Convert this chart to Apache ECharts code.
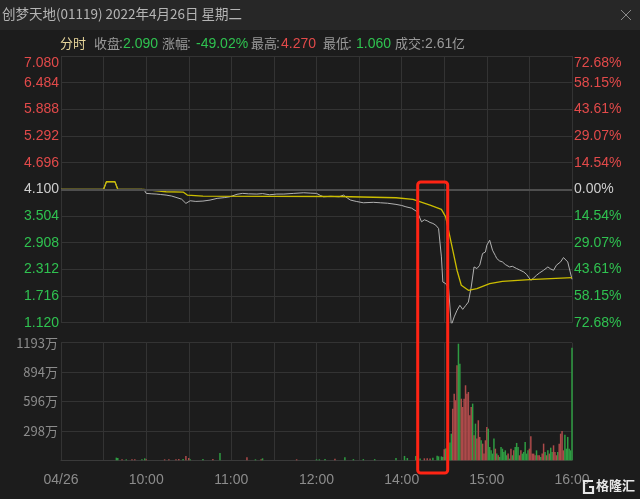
<!DOCTYPE html>
<html><head><meta charset="utf-8">
<script src="https://cdn.jsdelivr.net/npm/echarts@6/dist/echarts.min.js"></script>
<style>html,body{margin:0;padding:0;background:#1c1c1c;}#c{width:640px;height:499px;}</style>
</head><body><div id="c"></div>
<script>
// ---------- data ----------
const prevClose = 4.100;
const priceTicks = ['1.120','1.716','2.312','2.908','3.504','4.100','4.696','5.292','5.888','6.484','7.080'];
const pctTicks = ['72.68%','58.15%','43.61%','29.07%','14.54%','0.00%','14.54%','29.07%','43.61%','58.15%','72.68%'];
const volTicks = ['', '298万', '596万', '894万', '1193万'];
const timeTickTimes = ['09:00','10:00','11:00','12:00','14:00','15:00','16:00'];
const timeTickLabels = ['04/26','10:00','11:00','12:00','14:00','15:00','16:00'];

const priceData = [
 ['09:00',4.100],['09:30',4.100],['09:32',4.270],['09:38',4.270],['09:40',4.100],['09:57',4.100],
 ['09:59',4.069],['10:00',4.010],['10:04',4.000],['10:07',3.995],['10:10',3.985],['10:14',3.972],
 ['10:18',3.950],['10:21',3.921],['10:25',3.880],['10:28',3.786],['10:31',3.845],['10:35',3.830],
 ['10:40',3.838],['10:45',3.860],['10:50',3.898],['10:55',3.915],['10:59',3.934],['11:04',3.990],
 ['11:08',4.010],['11:12',4.000],['11:18',3.995],['11:22',4.005],['11:27',3.979],['11:32',3.995],
 ['11:37',3.995],['11:44',4.010],['11:51',4.024],['11:56',4.015],['12:00',4.010],['13:03',3.960],
 ['13:05',3.934],['13:10',3.945],['13:16',3.934],['13:19',3.972],['13:22',3.900],['13:24',3.860],
 ['13:28',3.830],['13:33',3.800],['13:40',3.810],['13:45',3.800],['13:50',3.790],['13:56',3.764],
 ['14:00',3.740],['14:03',3.710],['14:07',3.680],['14:11',3.598],['14:14',3.374],['14:16',3.420],
 ['14:18',3.396],['14:20',3.360],['14:22',3.338],['14:24',3.300],['14:26',3.226],['14:28',2.590],
 ['14:29',2.030],['14:31',1.994],['14:33',1.900],['14:35',1.060],['14:37',1.250],['14:39',1.396],
 ['14:41',1.508],['14:43',1.418],['14:45',1.500],['14:47',1.582],['14:49',1.918],['14:51',2.366],
 ['14:53',2.330],['14:55',2.404],['14:57',2.666],['14:59',2.700],['15:00',2.852],['15:02',2.964],
 ['15:04',2.740],['15:06',2.620],['15:07',2.554],['15:09',2.500],['15:11',2.478],['15:13',2.420],
 ['15:16',2.366],['15:18',2.380],['15:21',2.330],['15:23',2.300],['15:26',2.254],['15:28',2.200],
 ['15:31',2.068],['15:33',2.120],['15:35',2.180],['15:37',2.230],['15:40',2.292],['15:43',2.366],
 ['15:45',2.320],['15:47',2.292],['15:49',2.404],['15:52',2.480],['15:54',2.576],['15:57',2.478],
 ['16:00',2.090]
];
const avgData = [
 ['09:00',4.100],['09:30',4.100],['09:32',4.270],['09:38',4.270],['09:40',4.100],['09:58',4.100],
 ['09:59',4.069],['10:14',4.046],['10:26',4.040],['10:29',3.972],['10:40',3.950],['13:16',3.940],
 ['13:56',3.912],['14:08',3.876],['14:20',3.748],['14:28',3.652],['14:31',3.486],['14:34',3.038],
 ['14:36',2.740],['14:39',2.292],['14:42',1.956],['14:47',1.844],['14:53',1.882],['15:02',1.994],
 ['15:11',2.045],['15:30',2.083],['16:00',2.128]
];
// sparse early volumes (万): [time, volume, direction]
const volSparse = [
 ['09:39',27,'g'],['09:40',24,'g'],['09:43',10,'r'],['09:46',10,'g'],['09:50',10,'r'],['09:52',10,'r'],
 ['09:57',10,'g'],['09:59',20,'g'],['10:00',10,'r'],['10:13',10,'r'],['10:16',10,'r'],['10:21',10,'r'],
 ['10:23',14,'r'],['10:26',14,'g'],['10:28',44,'r'],['10:30',24,'r'],['10:31',10,'g'],['10:40',14,'g'],
 ['10:47',14,'r'],['10:52',74,'g'],['11:11',30,'r'],['11:17',10,'g'],['11:21',10,'r'],['11:22',20,'g'],
 ['11:46',10,'r'],['12:00',10,'g'],['13:02',10,'g'],['13:06',14,'g'],['13:13',16,'r'],['13:20',30,'g'],
 ['13:26',12,'g'],['13:33',12,'g'],['13:41',12,'g'],['13:56',23,'g'],['14:02',44,'g'],['14:04',23,'g'],
 ['14:10',44,'g'],['14:13',17,'g'],['14:16',20,'r'],['14:18',20,'r'],['14:20',17,'r'],['14:22',27,'g'],
 ['14:25',47,'g'],['14:26',40,'g'],['14:28',40,'g'],['14:29',33,'g'],['14:30',112,'r'],['14:31',120,'g'],
 ['14:32',120,'g'],['14:33',150,'g'],['14:34',180,'g']
];
// consecutive minute volumes from 14:35 to 16:00 (万)
const volDenseStart = '14:35';
const volDenseValues = [
 270,524,676,609,964,1183,980,625,541,625,761,676,693,456,541,575,254,372,220,406,
 237,203,169,68,203,338,321,135,101,68,220,118,68,51,34,135,118,85,
 101,51,68,17,118,51,101,135,176,135,51,101,68,85,186,68,101,118,243,68,
 68,51,101,51,51,34,68,169,85,51,101,68,128,85,152,85,51,85,169,270,
 298,101,260,118,237,118,101,1143
];
const volDenseDirs = ('grrrrggrrrrrrrrgrgrrrgrrrrgggggrgrgggg' +
 'ggrgrgrgggrrgggggrrrrrgrrgrrgrgrggrrrgrrrrggggggg').split('');

// ---------- helpers ----------
function toIdx(t){
  const [h,m] = t.split(':').map(Number);
  const mins = h*60+m;
  return mins <= 720 ? mins - 540 : mins - 780 + 180;
}
function idxToTime(i){
  const mins = i <= 180 ? i + 540 : i - 180 + 780;
  const h = Math.floor(mins/60), m = mins%60;
  return String(h).padStart(2,'0')+':'+String(m).padStart(2,'0');
}
const RED = '#e24a4a', GREEN = '#2fc250', NEUTRAL = '#cfcfcf';
const BAR_R = '#ad4a4a', BAR_G = '#2e9c42';

const volBars = [];
volSparse.forEach(d => volBars.push({value:[toIdx(d[0]), d[1]], itemStyle:{color: d[2]==='g'?BAR_G:BAR_R}}));
const denseStartIdx = toIdx(volDenseStart);
volDenseValues.forEach((v,i) => {
  const t = idxToTime(denseStartIdx + i);
  volBars.push({value:[toIdx(t), v], itemStyle:{color: volDenseDirs[i]==='g'?BAR_G:BAR_R}});
});

const tickIdx = timeTickTimes.map(toIdx);
const gridColor = '#333333';
const splitColors = priceTicks.map((_,i)=> i===5 ? '#555555' : gridColor);
const FONT = 'Arial, "Noto Sans CJK SC", sans-serif';
const CJK = '"Noto Sans CJK SC", Arial, sans-serif';

const chart = echarts.init(document.getElementById('c'), null, {renderer:'canvas'});
const G0 = {left:61, right:68, top:56, height:266.7};
const G1 = {left:61, right:68, top:342.7, height:117.6};

function headerTexts(){
  const GRAY = '#9a9a9a';
  const items = [
    ['分时',60,'#e6d59a','c'],['收盘',94,GRAY,'c'],[':',119,GRAY,'a'],['2.090',123,GREEN,'a'],
    ['涨幅',162,GRAY,'c'],[':',187,GRAY,'a'],['-49.02%',196,GREEN,'a'],
    ['最高',251,GRAY,'c'],[':',276,GRAY,'a'],['4.270',281,RED,'a'],
    ['最低',323,GRAY,'c'],[':',348,GRAY,'a'],['1.060',356,GREEN,'a'],
    ['成交',395,GRAY,'c'],[':',421,GRAY,'a'],['2.61',425,GRAY,'a'],['亿',452,GRAY,'c']
  ];
  return items.map(it => ({type:'text', left:it[1], top: it[3]==='c' ? 37 : 37.5, z:10,
    style:{text:it[0], fill:it[2], font: it[3]==='c' ? '13px '+CJK : '14px '+FONT}}));
}

chart.setOption({
  animation:false,
  backgroundColor:'#1c1c1c',
  grid:[G0, G1],
  xAxis:[
    {type:'value', gridIndex:0, min:0, max:360, interval:30,
     axisLine:{show:false}, axisTick:{show:false}, axisLabel:{show:false},
     splitLine:{show:true, lineStyle:{color:gridColor, width:1}}},
    {type:'value', gridIndex:1, min:0, max:360, interval:30,
     axisLine:{show:true, lineStyle:{color:'#3a3a3a'}}, axisTick:{show:false},
     axisLabel:{show:true, color:'#8c8c8c', fontSize:14, fontFamily:FONT, margin:13,
       showMinLabel:true, showMaxLabel:true, hideOverlap:false,
       formatter:(v)=>{ const k = tickIdx.indexOf(Math.round(v)); return k>=0 ? timeTickLabels[k] : ''; }},
     splitLine:{show:true, lineStyle:{color:gridColor, width:1}}}
  ],
  yAxis:[
    {type:'value', gridIndex:0, min:1.12, max:7.08, show:false, splitLine:{show:false}},
    {type:'value', gridIndex:0, min:0, max:10, interval:1, position:'left',
     axisLine:{show:false}, axisTick:{show:false},
     axisLabel:{margin:2, fontSize:14, fontFamily:FONT,
       color:(v)=>{ const i=Math.round(Number(v)); return i>5?RED:(i<5?GREEN:NEUTRAL); },
       formatter:(v)=>{ const i=Math.round(v); return i===10 ? '{t|'+priceTicks[i]+'}' : priceTicks[i]; },
       rich:{t:{padding:[14,0,0,0], color:RED, fontSize:14, fontFamily:FONT}}},
     splitLine:{show:true, lineStyle:{color:splitColors, width:1}}},
    {type:'value', gridIndex:0, min:0, max:10, interval:1, position:'right',
     axisLine:{show:false}, axisTick:{show:false},
     axisLabel:{margin:2, fontSize:14, fontFamily:FONT,
       color:(v)=>{ const i=Math.round(Number(v)); return i>5?RED:(i<5?GREEN:NEUTRAL); },
       formatter:(v)=>{ const i=Math.round(v); return i===10 ? '{t|'+pctTicks[i]+'}' : pctTicks[i]; },
       rich:{t:{padding:[14,0,0,0], color:RED, fontSize:14, fontFamily:FONT}}},
     splitLine:{show:false}},
    {type:'value', gridIndex:1, min:0, max:1193, show:false, splitLine:{show:false}},
    {type:'value', gridIndex:1, min:0, max:4, interval:1, position:'left',
     axisLine:{show:false}, axisTick:{show:false},
     axisLabel:{margin:3, fontSize:13, fontFamily:CJK, color:'#8c8c8c',
       formatter:(v)=>volTicks[Math.round(v)]},
     splitLine:{show:true, lineStyle:{color:gridColor, width:1}}}
  ],
  series:[
    {type:'line', xAxisIndex:0, yAxisIndex:0, data:[], silent:true, z:1,
     markLine:{silent:true, symbol:'none', label:{show:false},
       lineStyle:{color:'#4e4e4e', width:2, type:'solid'}, data:[{yAxis:prevClose}]}},
    {type:'line', name:'价格', xAxisIndex:0, yAxisIndex:0, showSymbol:false, z:3,
     lineStyle:{color:'#b2b2b2', width:1}, data:priceData.map(d=>[toIdx(d[0]), d[1]])},
    {type:'line', name:'均价', xAxisIndex:0, yAxisIndex:0, showSymbol:false, z:4,
     lineStyle:{color:'#cbbd00', width:1.3}, data:avgData.map(d=>[toIdx(d[0]), d[1]])},
    {type:'bar', name:'成交量', xAxisIndex:1, yAxisIndex:3, barWidth:1.5, z:3, data:volBars}
  ],
  graphic:[
    {type:'rect', left:0, top:0, z:0, shape:{width:640, height:30}, style:{fill:'#272727'}},
    {type:'text', left:2, top:7, z:10, style:{text:'创梦天地(01119) 2022年4月26日 星期二', fill:'#b5b5b5', font:'13.5px '+CJK}},
    {type:'line', z:10, shape:{x1:621, y1:10, x2:631, y2:20}, style:{stroke:'#8a8a8a', lineWidth:1}},
    {type:'line', z:10, shape:{x1:631, y1:10, x2:621, y2:20}, style:{stroke:'#8a8a8a', lineWidth:1}},
    ...headerTexts(),
    {type:'rect', z:20, shape:{x:417.7, y:182, width:30, height:291, r:3},
     style:{fill:'rgba(0,0,0,0)', stroke:'#ff2414', lineWidth:3}},
    {type:'polyline', z:20, shape:{points:[[593,481],[584,481],[584,493],[593,493],[593,487],[589,487]]},
     style:{fill:null, stroke:'#e6e6e6', lineWidth:2.2}},
    {type:'text', z:20, left:596, top:479, style:{text:'格隆汇', fill:'#e6e6e6', font:'bold 13px '+CJK}}
  ]
});
</script></body></html>
